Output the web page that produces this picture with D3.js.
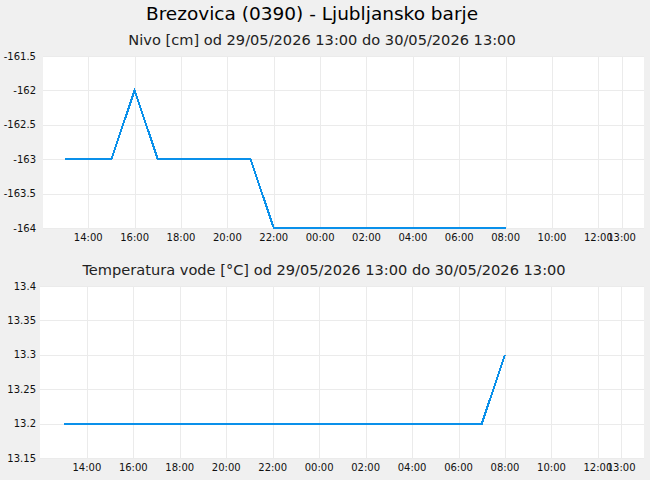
<!DOCTYPE html>
<html><head><meta charset="utf-8">
<script src="https://cdn.jsdelivr.net/npm/d3@7"></script>
<style>
html,body{margin:0;padding:0;background:#f0f0f0;}
svg{display:block;font-family:"DejaVu Sans",sans-serif;}
</style></head><body>
<svg id="c" width="650" height="480"></svg>
<script>
const title = "Brezovica (0390) - Ljubljansko barje";
const sub1 = "Nivo [cm] od 29/05/2026 13:00 do 30/05/2026 13:00";
const sub2 = "Temperatura vode [°C] od 29/05/2026 13:00 do 30/05/2026 13:00";
const times = ["2026-05-29T13:00","2026-05-29T14:00","2026-05-29T15:00","2026-05-29T16:00","2026-05-29T17:00","2026-05-29T18:00","2026-05-29T19:00","2026-05-29T20:00","2026-05-29T21:00","2026-05-29T22:00","2026-05-29T23:00","2026-05-30T00:00","2026-05-30T01:00","2026-05-30T02:00","2026-05-30T03:00","2026-05-30T04:00","2026-05-30T05:00","2026-05-30T06:00","2026-05-30T07:00","2026-05-30T08:00"];
const nivo = [-163,-163,-163,-162,-163,-163,-163,-163,-163,-164,-164,-164,-164,-164,-164,-164,-164,-164,-164,-164];
const temp = [13.2,13.2,13.2,13.2,13.2,13.2,13.2,13.2,13.2,13.2,13.2,13.2,13.2,13.2,13.2,13.2,13.2,13.2,13.2,13.3];
const nivoTicks = [-161.5,-162,-162.5,-163,-163.5,-164];
const tempTicks = [13.4,13.35,13.3,13.25,13.2,13.15];
const xTickTimes = ["2026-05-29T14:00","2026-05-29T16:00","2026-05-29T18:00","2026-05-29T20:00","2026-05-29T22:00","2026-05-30T00:00","2026-05-30T02:00","2026-05-30T04:00","2026-05-30T06:00","2026-05-30T08:00","2026-05-30T10:00","2026-05-30T12:00","2026-05-30T13:00"];

const parse = d3.timeParse("%Y-%m-%dT%H:%M");
const T = times.map(parse);
const XT = xTickTimes.map(parse);
const fmt = d3.timeFormat("%H:%M");
const svg = d3.select("#c");

svg.append("text").attr("x",312).attr("y",20).attr("text-anchor","middle")
  .attr("font-size",18.5).attr("fill","#000").text(title);

function panel(o){
  const x = d3.scaleTime().domain([parse(o.d0),parse(o.d1)]).range([o.left,o.right]);
  const y = d3.scaleLinear().domain([o.ymin,o.ymax]).range([o.bottom,o.top]);
  const g = svg.append("g");
  g.append("text").attr("x",o.subx).attr("y",o.suby).attr("text-anchor","middle")
    .attr("font-size",14.6).attr("fill","#222").text(o.sub);
  g.append("rect").attr("x",o.left).attr("y",o.top).attr("width",o.right-o.left).attr("height",o.bottom-o.top).attr("fill","#fff");
  g.selectAll(".gy").data(o.yticks).join("line")
    .attr("x1",o.left).attr("x2",o.right).attr("y1",d=>Math.round(y(d))+0.5).attr("y2",d=>Math.round(y(d))+0.5)
    .attr("stroke","#ebebeb").attr("stroke-width",1);
  g.selectAll(".gx").data(XT).join("line")
    .attr("y1",o.top).attr("y2",o.bottom).attr("x1",d=>Math.round(x(d))+0.5).attr("x2",d=>Math.round(x(d))+0.5)
    .attr("stroke","#ebebeb").attr("stroke-width",1);
  g.selectAll(".ly").data(o.yticks).join("text")
    .attr("x",36).attr("y",d=>y(d)).attr("dy","0.35em").attr("text-anchor","end")
    .attr("font-size",10).attr("fill","#111").text(d=>String(d));
  g.selectAll(".lx").data(XT).join("text")
    .attr("x",d=>x(d)).attr("y",o.bottom+9).attr("dy","0.35em").attr("text-anchor","middle")
    .attr("font-size",10).attr("fill","#111").text(d=>fmt(d));
  const line = d3.line().x((d,i)=>x(T[i])).y(d=>y(d));
  g.append("path").datum(o.vals).attr("d",line).attr("fill","none")
    .attr("stroke","#0a90ea").attr("stroke-width",2).attr("shape-rendering","crispEdges");
}

panel({d0:"2026-05-29T12:03",d1:"2026-05-30T13:58",left:43,right:644,top:56,bottom:228,
  ymin:-164,ymax:-161.5,yticks:nivoTicks,vals:nivo,sub:sub1,subx:322,suby:45});
panel({d0:"2026-05-29T11:59",d1:"2026-05-30T13:59",left:40,right:644,top:286,bottom:458,
  ymin:13.15,ymax:13.4,yticks:tempTicks,vals:temp,sub:sub2,subx:324,suby:275});
</script></body></html>
